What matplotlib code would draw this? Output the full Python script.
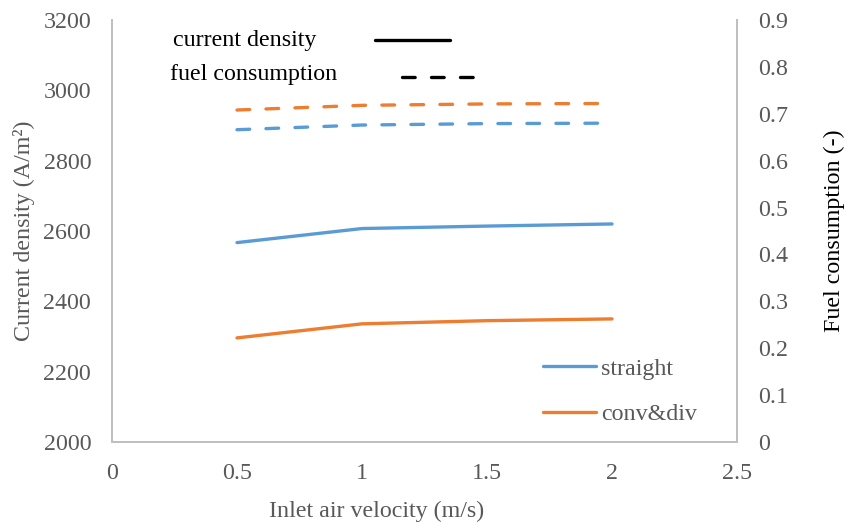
import matplotlib.pyplot as plt
from matplotlib.lines import Line2D

plt.rcParams["font.family"] = ["Liberation Serif", "DejaVu Serif"]

velocity = [0.5, 1.0, 1.5, 2.0]
cd_straight = [2567, 2607, 2614, 2620]
cd_convdiv = [2296, 2336, 2345, 2350]
fc_straight = [0.666, 0.676, 0.679, 0.680]
fc_convdiv = [0.708, 0.718, 0.721, 0.722]

BLUE = "#5b9bd5"
ORANGE = "#ed7d31"
TICK_GRAY = "#595959"
SPINE_GRAY = "#bfbfbf"
FS = 17.3
DASH = (0, (3.8, 4.9))

fig = plt.figure(figsize=(8.49, 5.24), dpi=100)
ax = fig.add_axes([112 / 849, 82 / 524, 625 / 849, 422 / 524])
ax2 = ax.twinx()

ax.plot(velocity, cd_straight, color=BLUE, lw=2.4, solid_capstyle="round", label="straight")
ax.plot(velocity, cd_convdiv, color=ORANGE, lw=2.4, solid_capstyle="round", label="conv&div")
ax2.plot(velocity, fc_straight, color=BLUE, lw=2.4, ls=DASH, dash_capstyle="round")
ax2.plot(velocity, fc_convdiv, color=ORANGE, lw=2.4, ls=DASH, dash_capstyle="round")

ax.set_xlim(0, 2.5)
ax.set_ylim(2000, 3200)
ax2.set_ylim(0, 0.9)
ax.set_xticks([0, 0.5, 1, 1.5, 2, 2.5])
ax.set_xticklabels(["0", "0.5", "1", "1.5", "2", "2.5"])
ax.set_yticks(range(2000, 3201, 200))
ax2.set_yticks([i / 10 for i in range(10)])
ax2.set_yticklabels(["0"] + [f"{i / 10:.1f}" for i in range(1, 10)])

for a in (ax, ax2):
    a.spines["top"].set_visible(False)
    for side in ("left", "right", "bottom"):
        a.spines[side].set_color(SPINE_GRAY)
        a.spines[side].set_linewidth(1.3)
    a.tick_params(length=0, labelsize=FS, labelcolor=TICK_GRAY)
ax.tick_params(axis="x", pad=15)
ax.tick_params(axis="y", pad=15)
ax2.tick_params(axis="y", pad=15)

ax.set_xlabel("Inlet air velocity (m/s)", fontsize=FS, color=TICK_GRAY, labelpad=12, x=0.424)
ax.set_ylabel("Current density (A/m²)", fontsize=FS, color=TICK_GRAY, labelpad=6)
ax2.set_ylabel("Fuel consumption (-)", fontsize=FS, color="black", labelpad=26)

# line-style key drawn as text + sample lines, as in the original figure
ax.text(0.245, 3141, "current density", fontsize=FS, ha="left", va="center")
ax.text(0.23, 3045, "fuel consumption", fontsize=FS, ha="left", va="center")
ax.add_line(Line2D([1.052, 1.352], [3143, 3143], color="black", lw=2.4, solid_capstyle="round"))
ax.add_line(Line2D([1.16, 1.464], [3038, 3038], color="black", lw=2.4, ls=DASH,
                   dash_capstyle="round"))

leg = ax.legend(loc="lower right", bbox_to_anchor=(0.97, -0.012), frameon=False,
                fontsize=FS, handlelength=2.2, handletextpad=0.2, labelspacing=1.0)
for t in leg.get_texts():
    t.set_color(TICK_GRAY)

fig.savefig("out.png", dpi=100)
